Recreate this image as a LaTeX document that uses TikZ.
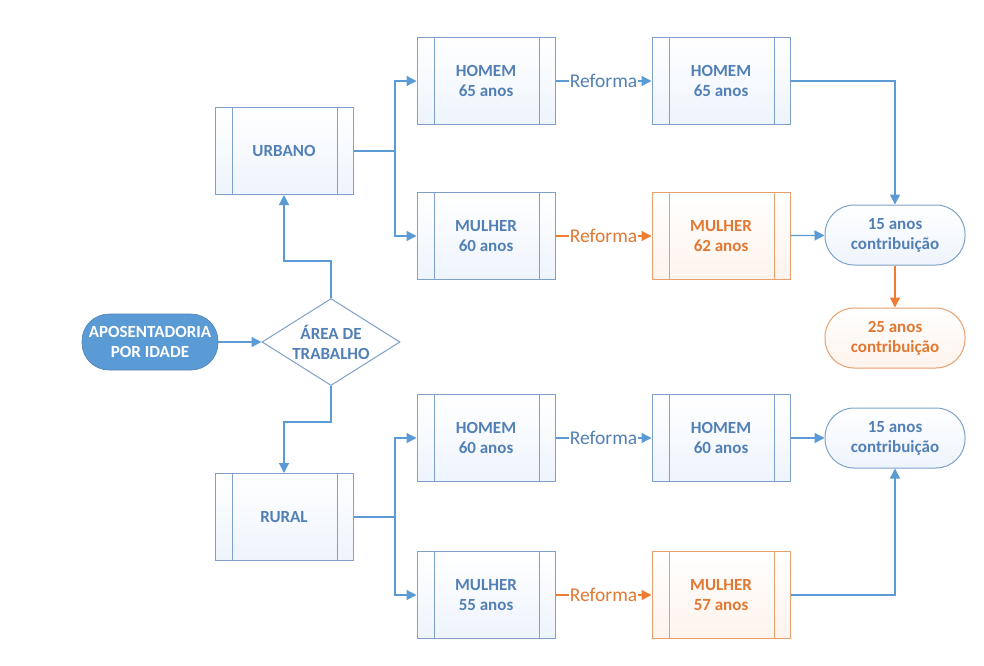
\documentclass[tikz,border=0pt]{standalone}
\usepackage{fontspec}
\setmainfont{Carlito}
\usetikzlibrary{arrows.meta,shapes.geometric}
\definecolor{lineblue}{RGB}{91,155,213}
\definecolor{boxblue}{RGB}{128,160,204}
\definecolor{txtblue}{RGB}{82,128,182}
\definecolor{fillblue}{RGB}{238,244,252}
\definecolor{orangeA}{RGB}{237,125,49}
\definecolor{boxorange}{RGB}{232,160,110}
\definecolor{txtorange}{RGB}{226,120,50}
\definecolor{fillorange}{RGB}{253,243,236}
\definecolor{startfill}{RGB}{91,155,213}
\tikzset{
  boxtext/.style={font=\fontsize{17}{20}\selectfont\bfseries, align=center},
  procbox/.style={boxtext, draw=boxblue, line width=1pt, text=txtblue,
    minimum width=138pt, minimum height=87pt, inner sep=0pt,
    top color=white, bottom color=fillblue,
    path picture={
      \draw[boxblue, line width=1pt]
        ([xshift=17pt]path picture bounding box.north west) --
        ([xshift=17pt]path picture bounding box.south west)
        ([xshift=-16pt]path picture bounding box.north east) --
        ([xshift=-16pt]path picture bounding box.south east);
    }},
  procorange/.style={procbox, draw=boxorange, text=txtorange,
    top color=white, bottom color=fillorange,
    path picture={
      \draw[boxorange, line width=1pt]
        ([xshift=17pt]path picture bounding box.north west) --
        ([xshift=17pt]path picture bounding box.south west)
        ([xshift=-16pt]path picture bounding box.north east) --
        ([xshift=-16pt]path picture bounding box.south east);
    }},
  pillblue/.style={boxtext, draw=boxblue, line width=1pt, text=txtblue,
    minimum width=140pt, minimum height=60pt, inner sep=0pt,
    rounded corners=29pt, top color=white, bottom color=fillblue},
  pillorange/.style={pillblue, draw=boxorange, text=txtorange,
    top color=white, bottom color=fillorange},
  startpill/.style={boxtext, fill=startfill, draw=startfill!85!black, line width=0.6pt,
    text=white, minimum width=136pt, minimum height=56pt, inner sep=0pt,
    rounded corners=27pt},
  decision/.style={boxtext, diamond, draw=boxblue, line width=1pt, text=txtblue,
    fill=white, minimum width=138pt, minimum height=87pt, inner sep=0pt, aspect=1.586},
  conn/.style={draw=lineblue, line width=1.3pt,
    -{Triangle[length=10pt,width=10pt]}},
  connorange/.style={conn, draw=orangeA, -{Triangle[length=10pt,width=10pt,fill=orangeA]}},
  plain/.style={draw=lineblue, line width=1.3pt},
  reflabel/.style={fill=white, inner sep=1pt, font=\fontsize{19.5}{20}\selectfont, text=txtblue},
  reflabelorange/.style={reflabel, text=txtorange},
}
\begin{document}
\begin{tikzpicture}[x=1pt, y=-1pt]
\useasboundingbox (0,0) rectangle (984,665);
\fill[white] (0,0) rectangle (984,665);

\node[startpill] (apo) at (150,342) {APOSENTADORIA\\POR IDADE};
\node[decision] (dia) at (331,342) {ÁREA DE\\TRABALHO};
\node[procbox] (urb) at (284,151) {URBANO};
\node[procbox] (rur) at (284,517) {RURAL};

\node[procbox] (h65) at (486,81) {HOMEM\\65 anos};
\node[procbox] (m60) at (486,236) {MULHER\\60 anos};
\node[procbox] (h65r) at (721,81) {HOMEM\\65 anos};
\node[procorange] (m62) at (721,236) {MULHER\\62 anos};

\node[procbox] (h60) at (486,438) {HOMEM\\60 anos};
\node[procbox] (m55) at (486,595) {MULHER\\55 anos};
\node[procbox] (h60r) at (721,438) {HOMEM\\60 anos};
\node[procorange] (m57) at (721,595) {MULHER\\57 anos};

\node[pillblue] (c15a) at (895,235) {15 anos\\contribuição};
\node[pillorange] (c25) at (895,338) {25 anos\\contribuição};
\node[pillblue] (c15b) at (895,438) {15 anos\\contribuição};

\coordinate (jU) at (395,151);
\coordinate (jR) at (395,517);

% start to decision
\draw[conn] (apo) -- (dia);
\draw[conn] (dia.north) -- ++(0,-37) -| (urb.south);
\draw[conn] (dia.south) -- ++(0,36) -| (rur.north);

% urbano branch
\draw[plain] (urb.east) -- (jU);
\draw[conn] (jU) |- (h65.west);
\draw[conn] (jU) |- (m60.west);
\draw[conn] (h65) -- node[reflabel] {Reforma} (h65r);
\draw[connorange] (m60) -- node[reflabelorange] {Reforma} (m62);
\draw[conn] (h65r.east) -| (c15a.north);
\draw[conn] (m62) -- (c15a);
\draw[connorange] (c15a) -- (c25);

% rural branch
\draw[plain] (rur.east) -- (jR);
\draw[conn] (jR) |- (h60.west);
\draw[conn] (jR) |- (m55.west);
\draw[conn] (h60) -- node[reflabel] {Reforma} (h60r);
\draw[connorange] (m55) -- node[reflabelorange] {Reforma} (m57);
\draw[conn] (h60r) -- (c15b);
\draw[conn] (m57.east) -| (c15b.south);
\end{tikzpicture}
\end{document}
